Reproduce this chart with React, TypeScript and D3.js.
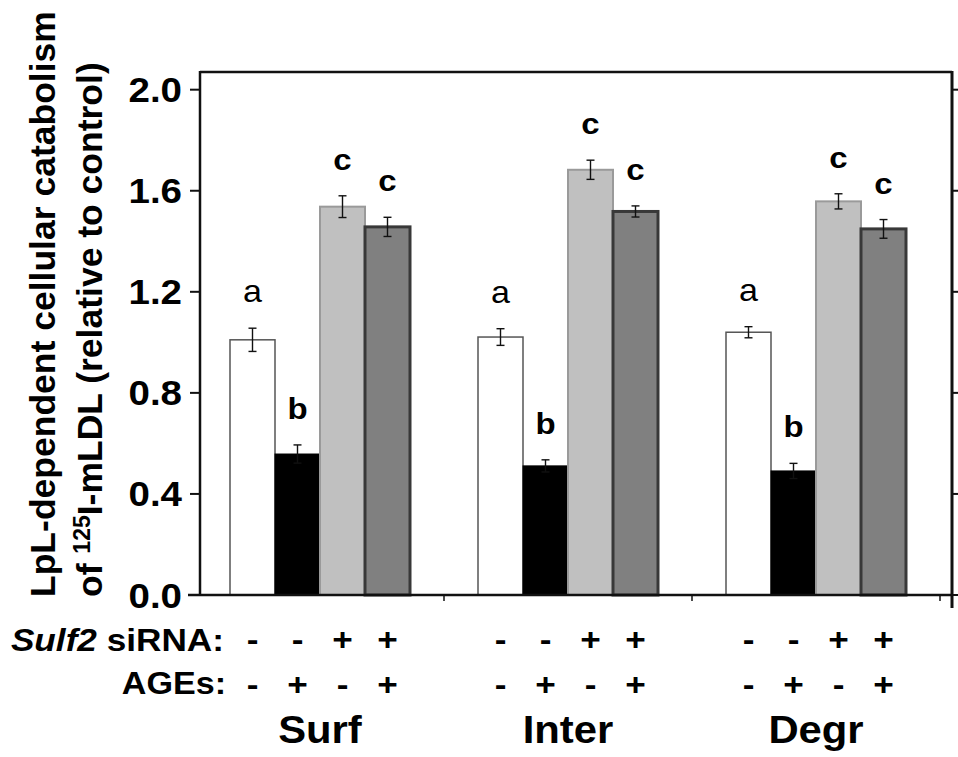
import * as d3 from 'd3';

// chart values
const groups = ['Surf', 'Inter', 'Degr'];
const conditions = ['ctrl', 'ages', 'sulf2', 'sulf2Ages'];
const siRNARow = ['-', '-', '+', '+'];
const agesRow = ['-', '+', '-', '+'];
const letters = ['a', 'b', 'c', 'c'];

const surfValues = [1.01, 0.558, 1.537, 1.457];
const interValues = [1.021, 0.511, 1.683, 1.518];
const degrValues = [1.04, 0.491, 1.558, 1.449];

const surfErrors = [0.046, 0.036, 0.043, 0.038];
const interErrors = [0.033, 0.024, 0.038, 0.022];
const degrErrors = [0.022, 0.03, 0.03, 0.037];

const yTicks = [0, 0.4, 0.8, 1.2, 1.6, 2.0];

const values = [surfValues, interValues, degrValues];
const errors = [surfErrors, interErrors, degrErrors];

const barStyle = {
  ctrl: { fill: '#ffffff', stroke: '#555555', width: 1.5 },
  ages: { fill: '#000000', stroke: '#000000', width: 1 },
  sulf2: { fill: '#c0c0c0', stroke: '#9a9a9a', width: 2 },
  sulf2Ages: { fill: '#808080', stroke: '#383838', width: 3 },
};

const font = '"Liberation Sans", Arial, Helvetica, sans-serif';
const SX = 1.1; // the original figure is a little wider than tall

const App = () => {
  const left = 200;
  const right = 952;
  const top = 72;
  const bottom = 595;

  const y = d3.scaleLinear().domain([0, 2.07]).range([bottom, top]);
  const x = d3.scaleBand().domain(groups).range([196, 940]);
  const xInner = d3.scaleBand().domain(conditions).range([34, 214]);

  const bars = [];
  groups.forEach((g, gi) => {
    conditions.forEach((c, ci) => {
      const v = values[gi][ci];
      const e = errors[gi][ci];
      const x0 = x(g) + xInner(c);
      const cx = x0 + xInner.bandwidth() / 2;
      bars.push({ key: g + c, c, v, e, x0, cx, letter: letters[ci], ci });
    });
  });

  const hText = (key, tx, ty, txt, size, anchor, extra = {}) => (
    <text
      key={key}
      transform={`translate(${tx},${ty}) scale(${SX},1)`}
      textAnchor={anchor}
      fontSize={size}
      fontWeight="bold"
      fontFamily={font}
      fill="#000"
      {...extra}
    >
      {txt}
    </text>
  );

  return (
    <svg
      width={958}
      height={757}
      style={{ position: 'absolute', left: 0, top: 0, background: '#fff' }}
    >
      {/* bars */}
      {bars.map((b) => {
        const s = barStyle[b.c];
        return (
          <rect
            key={b.key}
            x={b.x0}
            y={y(b.v)}
            width={xInner.bandwidth()}
            height={y(0) - y(b.v)}
            fill={s.fill}
            stroke={s.stroke}
            strokeWidth={s.width}
          />
        );
      })}

      {/* error bars */}
      {bars.map((b) => (
        <g key={'e' + b.key} stroke="#111" strokeWidth={1.4}>
          <line x1={b.cx} x2={b.cx} y1={y(b.v + b.e)} y2={y(b.v - b.e)} />
          <line x1={b.cx - 4} x2={b.cx + 4} y1={y(b.v + b.e)} y2={y(b.v + b.e)} />
          <line x1={b.cx - 4} x2={b.cx + 4} y1={y(b.v - b.e)} y2={y(b.v - b.e)} />
        </g>
      ))}

      {/* significance letters ("a" is set lighter in the original) */}
      {bars.map((b) =>
        hText('l' + b.key, b.cx, y(b.v + b.e) - 26, b.letter, b.letter === 'a' ? 31 : 30, 'middle',
          b.letter === 'a' ? { fontWeight: 'normal' } : {})
      )}

      {/* frame */}
      <g stroke="#111" fill="none">
        <line x1={left} x2={left} y1={top - 1} y2={bottom} strokeWidth={2.5} />
        <line x1={left} x2={right} y1={top} y2={top} strokeWidth={2.5} />
        <line x1={right} x2={right} y1={top - 1} y2={608} strokeWidth={3} />
        <line x1={188} x2={right} y1={bottom} y2={bottom} strokeWidth={2.5} />
        {yTicks.map((t) => (
          <g key={'t' + t}>
            <line x1={190} x2={left} y1={y(t)} y2={y(t)} strokeWidth={2} />
            <line x1={right} x2={960} y1={y(t)} y2={y(t)} strokeWidth={2} />
          </g>
        ))}
        {groups.map((g) => (
          <line
            key={'gt' + g}
            x1={x(g) + x.bandwidth()}
            x2={x(g) + x.bandwidth()}
            y1={bottom}
            y2={bottom + 6}
            strokeWidth={1.5}
          />
        ))}
      </g>

      {/* y tick labels */}
      {yTicks.map((t) =>
        hText('yl' + t, 182, y(t) + 12.5, d3.format('.1f')(t), 35, 'end')
      )}

      {/* y axis title */}
      <g fontFamily={font} fontWeight="bold" fontSize={35.5} fill="#000">
        <text transform="translate(55,597) rotate(-90)">
          LpL-dependent cellular catabolism
        </text>
        <text transform="translate(102,597) rotate(-90)">
          of <tspan fontSize={23} dy={-12}>125</tspan>
          <tspan dy={12}>I-mLDL (relative to control)</tspan>
        </text>
      </g>

      {/* treatment rows */}
      {hText('r1', 224, 651, [
        <tspan key="i" fontStyle="italic">Sulf2</tspan>,
        <tspan key="s"> siRNA:</tspan>,
      ], 32, 'end')}
      {hText('r2', 226, 694, 'AGEs:', 31, 'end')}
      {bars.map((b) => hText('s' + b.key, b.cx, 650, siRNARow[b.ci], 32, 'middle'))}
      {bars.map((b) => hText('a' + b.key, b.cx, 695, agesRow[b.ci], 32, 'middle'))}

      {/* group names */}
      {groups.map((g) =>
        hText('g' + g, x(g) + x.bandwidth() / 2, 743, g, 38, 'middle')
      )}
    </svg>
  );
};

export default App;
